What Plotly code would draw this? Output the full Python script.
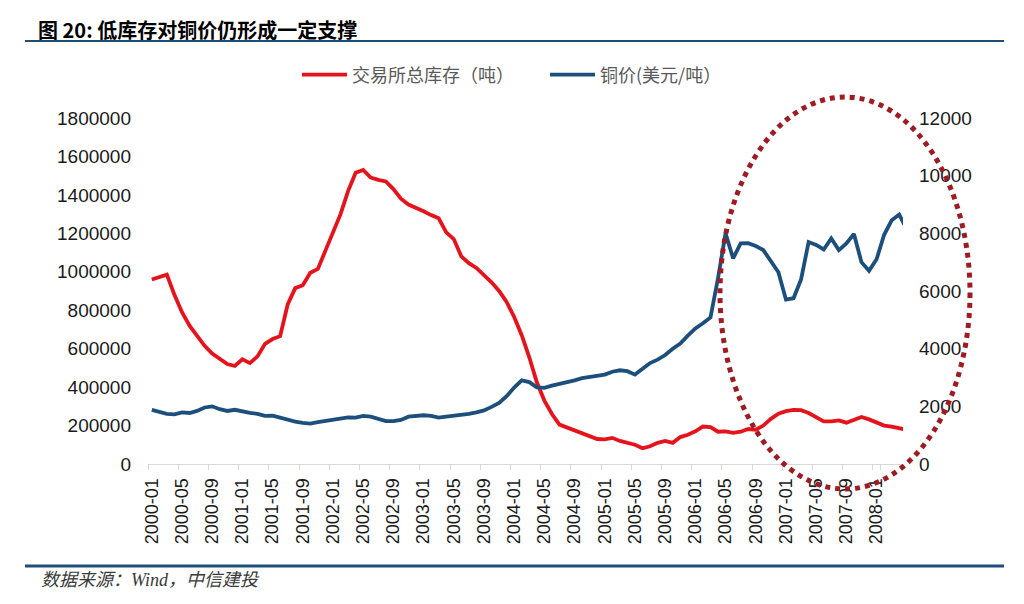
import plotly.graph_objects as go
import pandas as pd

# ---- data ----
months = [p.strftime("%Y-%m") for p in pd.period_range("2000-01", "2008-05", freq="M")]

inventory_kt = [
    960, 975, 985, 880, 790, 720, 665, 615, 575, 545, 520, 510,
    545, 525, 560, 625, 650, 665, 830, 915, 930, 995, 1015, 1110,
    1200, 1300, 1420, 1515, 1530, 1490, 1478, 1470, 1430, 1380, 1350, 1335,
    1315, 1295, 1278, 1205, 1170, 1080, 1045, 1020, 985, 945, 900, 843,
    765, 670, 555, 425, 330, 260, 205, 190, 175, 158, 140, 130,
    128, 136, 120, 110, 100, 82, 92, 110, 120, 110, 140, 152,
    170, 195, 192, 168, 170, 162, 168, 182, 178, 200, 235, 262,
    275, 282, 280, 265, 245, 222, 222, 227, 215, 232, 245, 232,
    215, 200, 195, 185, 178,
]
inventory = [v * 1000 for v in inventory_kt]

copper_price = [
    1880, 1820, 1740, 1720, 1790, 1770, 1840, 1960, 2000, 1900, 1840, 1880,
    1810, 1770, 1740, 1670, 1680, 1600, 1530, 1470, 1430, 1400, 1450, 1490,
    1540, 1600, 1620, 1610, 1670, 1640, 1570, 1490, 1490, 1530, 1640, 1660,
    1690, 1670, 1610, 1640, 1670, 1690, 1740, 1790, 1860, 1980, 2120, 2350,
    2650, 2900, 2840, 2660, 2640, 2720, 2770, 2830, 2900, 2980, 3020, 3030,
    3100, 3200, 3250, 3220, 3100, 3300, 3500, 3620, 3780, 4000, 4180, 4450,
    4700, 4880, 5080, 6450, 8000, 7130, 7650, 7660, 7560, 7420, 7050, 6650,
    5700, 5750, 6400, 7700, 7600, 7440, 7820, 7420, 7650, 7980, 7000, 6700,
    7100, 7950, 8450, 8650, 8150,
]

tick_labels = [m for m in months[:100] if m[5:] in ("01", "05", "09")]

left_ticks = list(range(0, 1800001, 200000))
right_ticks = list(range(0, 12001, 2000))

title_text = "图 20: 低库存对铜价仍形成一定支撑"
source_text = "数据来源：Wind，中信建投"
name_inv = "交易所总库存（吨）"
name_price = "铜价(美元/吨）"

# ---- layout geometry (pixels; page body has an 8px margin) ----
OFF = 8
W, H = 1024 - OFF, 604 - OFF
L, R, T, B = 148 - OFF, 121, 118 - OFF, 140
PW, PH = W - L - R, H - T - B


def px(x):
    return (x - OFF - L) / PW


def py(y):
    return (H - B - (y - OFF)) / PH


RED = "#e5131b"
BLUE = "#1c4f7c"
FONT = "Liberation Sans, Arial, Noto Sans CJK SC, sans-serif"
CJK = "Noto Sans CJK SC, Liberation Sans, sans-serif"

fig = go.Figure()
fig.add_trace(go.Scatter(x=months, y=inventory, name=name_inv, mode="lines",
                         line=dict(color=RED, width=3.8), yaxis="y"))
fig.add_trace(go.Scatter(x=months, y=copper_price, name=name_price, mode="lines",
                         line=dict(color=BLUE, width=3.8), yaxis="y2"))

fig.update_layout(
    width=W, height=H,
    margin=dict(l=L, r=R, t=T, b=B, pad=0),
    paper_bgcolor="white", plot_bgcolor="white",
    font=dict(family=FONT, size=19, color="#1a1a1a"),
    showlegend=True,
    legend=dict(orientation="h", x=px(297), y=py(75), xanchor="left", yanchor="middle",
                font=dict(family=CJK, size=18, color="#595959"),
                bgcolor="rgba(0,0,0,0)", itemwidth=45, tracegroupgap=0,
                entrywidth=188, entrywidthmode="pixels"),
    xaxis=dict(type="category", range=[-0.5, 99.5], tickmode="array",
               tickvals=tick_labels, ticktext=tick_labels, tickangle=-90,
               tickson="boundaries", ticks="outside", ticklen=5, tickcolor="#d9d9d9",
               showline=True, linecolor="#d9d9d9", linewidth=1, showgrid=False,
               zeroline=False, ticklabelstandoff=6,
               tickfont=dict(family=FONT, size=18, color="#1a1a1a")),
    yaxis=dict(range=[0, 1800000], tickmode="array", tickvals=left_ticks,
               tickformat="d", showgrid=False, zeroline=False, showline=False,
               ticks="", ticklabelstandoff=16,
               tickfont=dict(family=FONT, size=19, color="#1a1a1a")),
    yaxis2=dict(range=[0, 12000], tickmode="array", tickvals=right_ticks,
                tickformat="d", overlaying="y", side="right", showgrid=False,
                zeroline=False, showline=False, ticks="", ticklabelstandoff=15,
                tickfont=dict(family=FONT, size=19, color="#1a1a1a")),
)

shapes = [
    # title rule
    dict(type="line", xref="paper", yref="paper", x0=px(25), x1=px(1004),
         y0=py(41), y1=py(41), line=dict(color="#1f4e79", width=2)),
    # footer rule
    dict(type="line", xref="paper", yref="paper", x0=px(25), x1=px(1004),
         y0=py(566), y1=py(566), line=dict(color="#1f4e79", width=3)),
    # dotted highlight ellipse
    dict(type="circle", xref="paper", yref="paper", x0=px(720), x1=px(970),
         y0=py(489), y1=py(97), line=dict(color="#9e1b22", width=5, dash="dot")),
]
fig.update_layout(shapes=shapes)

fig.add_annotation(text="<b>" + title_text + "</b>", xref="paper", yref="paper",
                   x=px(36), y=py(29), xanchor="left", yanchor="middle", showarrow=False,
                   font=dict(family=CJK, size=20, color="#000000"))
fig.add_annotation(text="<i>" + source_text + "</i>", xref="paper", yref="paper",
                   x=px(39), y=py(580), xanchor="left", yanchor="middle", showarrow=False,
                   font=dict(family="Liberation Serif, Noto Sans CJK SC, serif", size=18,
                             color="#3a3a3a"))

fig.write_html("out.html")
